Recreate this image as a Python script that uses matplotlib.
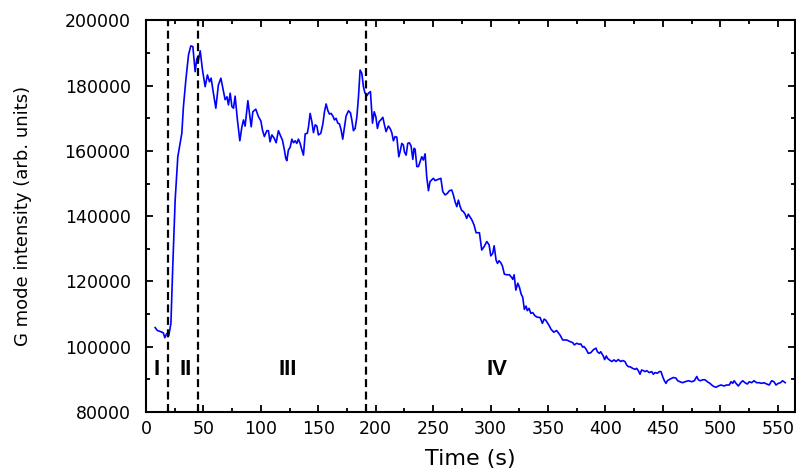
"""
G mode intensity vs time, with the four regions marked
"""
import matplotlib
matplotlib.use('Agg')
import matplotlib.pyplot as plt
from matplotlib.ticker import MultipleLocator

# time (s) and G mode intensity
time_s = [8.0, 9.9, 12.5, 15.1, 16.4, 18.1, 19.9, 21.7, 23.4, 25.4, 27.7, 29.2, 31.2, 32.6, 34.7, 37.0,
          39.0, 40.8, 42.8, 44.3, 45.2, 47.2, 49.2, 51.5, 53.5, 55.3, 56.7, 58.7, 60.8, 63.0, 65.2, 66.9,
          68.9, 70.5, 71.8, 73.3, 74.8, 76.2, 77.6, 79.6, 81.7, 83.5, 84.9, 86.3, 88.7, 90.1, 91.6, 93.0,
          95.6, 97.9, 100.0, 101.4, 103.1, 105.2, 106.6, 108.0, 109.6, 111.6, 113.3, 115.3, 117.4, 118.8,
          120.5, 121.7, 122.6, 124.0, 125.5, 127.0, 128.4, 129.9, 131.3, 132.7, 134.2, 135.7, 137.1, 138.6,
          140.4, 141.4, 142.9, 144.4, 145.8, 147.3, 148.8, 150.1, 152.2, 154.0, 155.4, 156.8, 158.4, 159.7,
          161.2, 162.7, 164.1, 165.5, 167.0, 168.4, 169.9, 171.3, 172.8, 174.2, 176.3, 178.0, 179.2, 180.6,
          182.1, 183.6, 185.0, 186.4, 187.9, 189.3, 190.5, 192.2, 193.7, 195.4, 197.2, 198.7, 200.1, 201.5,
          203.0, 204.4, 206.2, 207.6, 209.0, 211.0, 212.5, 214.0, 215.4, 216.9, 218.4, 220.1, 221.2, 222.7,
          224.1, 225.0, 226.5, 227.9, 229.3, 230.8, 232.3, 233.4, 234.3, 235.8, 237.2, 238.6, 240.1, 241.5,
          243.0, 244.4, 245.9, 247.3, 248.8, 250.2, 251.7, 253.1, 255.2, 256.7, 258.4, 260.4, 262.4, 264.2,
          266.2, 267.6, 269.1, 270.6, 272.0, 273.5, 274.9, 276.3, 277.8, 279.2, 280.6, 282.2, 283.6, 285.6,
          287.4, 290.3, 292.3, 294.3, 296.7, 298.7, 300.2, 301.9, 303.1, 304.8, 306.0, 307.4, 308.9, 310.3,
          312.0, 314.1, 316.4, 318.5, 319.3, 320.5, 322.0, 323.7, 325.1, 326.6, 328.0, 329.4, 330.9, 332.0,
          333.5, 335.0, 336.7, 338.7, 340.7, 343.1, 345.1, 346.6, 348.0, 349.8, 351.2, 352.6, 355.0, 357.5,
          360.5, 362.8, 366.3, 369.2, 371.5, 372.9, 375.0, 377.0, 378.5, 380.2, 381.3, 383.1, 385.1, 387.2,
          389.5, 391.8, 393.0, 394.7, 395.9, 398.1, 399.3, 400.8, 401.7, 403.4, 405.5, 407.5, 409.2, 411.2,
          413.3, 415.0, 417.0, 418.5, 420.0, 421.4, 423.7, 425.8, 427.2, 428.6, 430.1, 431.5, 433.0, 434.5,
          435.9, 438.2, 440.3, 441.7, 443.2, 445.2, 446.9, 448.4, 449.8, 451.3, 452.7, 453.9, 456.2, 459.1,
          461.4, 462.9, 464.9, 467.2, 469.3, 472.2, 475.1, 477.4, 479.5, 480.9, 482.5, 484.8, 486.7, 488.7,
          491.0, 492.5, 494.5, 496.3, 498.3, 500.6, 503.2, 505.5, 507.8, 509.3, 510.8, 512.0, 513.7, 515.7,
          517.8, 519.5, 521.5, 523.5, 525.3, 527.3, 529.3, 531.7, 533.9, 536.0, 538.0, 540.4, 542.6, 544.7,
          546.7, 548.5, 550.5, 552.4, 554.2, 555.3, 556.5]

intensity = [105800, 104900, 104600, 104200, 102700, 104000, 103400, 107100, 125500, 144950, 158200, 161300,
             165400, 173600, 181750, 189400, 192200, 192000, 184300, 188400, 186900, 190700, 184800, 179700,
             183300, 181200, 182300, 177700, 173100, 180200, 182300, 179200, 175700, 176600, 174100, 177700,
             173600, 173100, 176800, 169500, 163100, 167400, 169500, 167600, 175400, 171500, 167400, 172000,
             172800, 170500, 169200, 166400, 164400, 166200, 166200, 162800, 164900, 163900, 162500, 166200,
             164400, 163300, 160300, 157700, 157000, 160300, 161100, 163600, 162500, 163100, 162300, 163600,
             162300, 160300, 158700, 165200, 165400, 167200, 171500, 169000, 165600, 168000, 167600, 164900,
             165400, 168300, 172000, 174400, 172300, 171300, 171500, 170700, 169500, 170000, 168500, 168300,
             166400, 163600, 167400, 170700, 172300, 171700, 169500, 166200, 166900, 170500, 176600, 184800,
             183800, 179700, 177900, 176900, 177700, 178200, 168500, 172000, 170500, 166900, 169000, 169500,
             170300, 168000, 165900, 167600, 166900, 165600, 163100, 164400, 164200, 158200, 159700, 162300,
             161800, 159700, 158700, 162300, 162500, 161500, 157400, 160800, 160500, 155200, 155200, 156700,
             158200, 157200, 159100, 152100, 147800, 150600, 151100, 151600, 150900, 151100, 151400, 151600,
             147500, 146500, 147000, 147800, 148000, 146500, 144400, 142900, 144900, 142900, 141700, 141400,
             140600, 139300, 140600, 139700, 138900, 137300, 134900, 134900, 129600, 130600, 132200, 131200,
             127800, 128600, 130900, 126500, 125500, 126300, 125700, 124700, 122200, 122000, 122000, 121100,
             120600, 122000, 117300, 119400, 118200, 116100, 115100, 111400, 112400, 111000, 111700, 110200,
             110400, 109400, 109000, 108900, 107100, 108400, 108100, 107100, 106300, 105300, 104400, 104900,
             103500, 102000, 102000, 101500, 101200, 100500, 101000, 100700, 100800, 99800, 100000, 99200,
             97900, 98100, 99000, 99500, 98400, 97900, 98400, 97100, 96000, 97100, 96400, 95900,
             95400, 95900, 95400, 96000, 95400, 95700, 95400, 94300, 93800, 93800, 93300, 93000,
             93300, 92600, 91500, 92800, 92600, 92300, 92600, 92000, 92300, 91500, 92000, 91800,
             92300, 92300, 90800, 89500, 88700, 89500, 90000, 90500, 90300, 89500, 89200, 88900,
             89200, 89500, 89200, 89500, 90800, 89800, 89500, 89800, 89800, 89200, 88700, 88200,
             87700, 87500, 87900, 88200, 87900, 88200, 88200, 89200, 88700, 89500, 88700, 87900,
             88900, 89500, 88900, 88500, 89200, 88900, 89500, 88900, 88900, 88700, 88900, 88500,
             88200, 89500, 89200, 88200, 88700, 88900, 89500, 89200, 88900]

# region boundaries and labels
boundaries = [19.6, 45.2, 191.6]
region_names = ['I', 'II', 'III', 'IV']
region_x = [9.4, 34.7, 123.5, 306.0]
region_y = 93100

plt.rcParams['font.family'] = ['DejaVu Sans']

fig = plt.figure(figsize=(7.96, 4.70), dpi=100)
ax = fig.add_axes([0.1834, 0.124, 0.8153, 0.8324])

ax.plot(time_s, intensity, color='#0000ff', linewidth=1.2)

for b in boundaries:
    ax.axvline(b, color='black', linestyle=(0, (3.6, 2.0)), linewidth=1.6)

for name, xr in zip(region_names, region_x):
    ax.text(xr, region_y, name, ha='center', va='center', fontsize=16, fontweight='bold',
            family='Liberation Sans')

ax.set_xlim(0, 565)
ax.set_ylim(80000, 200000)
ax.xaxis.set_major_locator(MultipleLocator(50))
ax.xaxis.set_minor_locator(MultipleLocator(25))
ax.yaxis.set_major_locator(MultipleLocator(20000))
ax.yaxis.set_minor_locator(MultipleLocator(10000))
ax.ticklabel_format(axis='y', style='plain', useOffset=False)

ax.tick_params(which='both', direction='in', top=True, right=True, width=1.3, labelsize=12.5)
ax.tick_params(which='major', length=5)
ax.tick_params(which='minor', length=3)
ax.tick_params(axis='x', pad=6)
ax.tick_params(axis='y', pad=11)
for sp in ax.spines.values():
    sp.set_linewidth(1.5)

ax.set_xlabel('Time (s)', fontsize=16, labelpad=8)
ax.set_ylabel('G mode intensity (arb. units)', fontsize=13)
ax.yaxis.set_label_coords(-0.1757, 0.5)

fig.savefig('out.png', dpi=100)
